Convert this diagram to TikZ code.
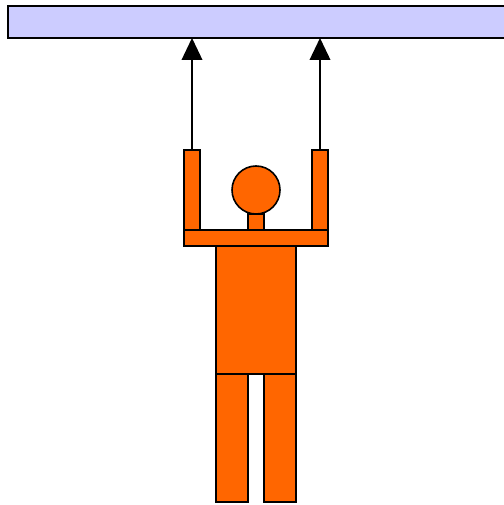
\documentclass[tikz,border=0pt]{standalone}
\usepackage{xcolor}
\usetikzlibrary{arrows.meta,positioning}
\definecolor{figorange}{HTML}{FF6600}
\definecolor{ceilblue}{HTML}{CCCCFF}

\begin{document}
\begin{tikzpicture}[
  x=0.75pt, y=-0.75pt,
  node distance=0pt,
  part/.style={rectangle, draw=black, line width=1.2pt, fill=figorange,
    inner sep=0pt, outer sep=0pt},
  arrow/.style={-{Triangle[length=16.5pt, width=15.5pt]}, line width=1.2pt, black},
]
  \useasboundingbox (0,0) rectangle (503,505);

  \node[part, fill=ceilblue, minimum width=402pt, minimum height=24pt,
    anchor=north west] (ceiling) at (8,6) {};

  \node[part, minimum width=108pt, minimum height=12pt] (shoulders) at (256,238) {};
  \node[part, minimum width=60pt, minimum height=96pt, below=of shoulders] (torso) {};
  \node[part, minimum width=24pt, minimum height=96pt, below=of torso.south west,
    anchor=north west] (legleft) {};
  \node[part, minimum width=24pt, minimum height=96pt, below=of torso.south east,
    anchor=north east] (legright) {};

  \node[part, minimum width=12pt, minimum height=60pt, above=of shoulders.north west,
    anchor=south west] (armleft) {};
  \node[part, minimum width=12pt, minimum height=60pt, above=of shoulders.north east,
    anchor=south east] (armright) {};

  \node[part, minimum width=12pt, minimum height=12pt, above=of shoulders] (neck) {};
  \node[part, circle, minimum size=36pt, above=of neck] (head) {};

  % redraw shoulder line over the arms and neck
  \draw[line width=1.2pt] (shoulders.north west) -- (shoulders.north east);

  \draw[arrow] (armleft.north) -- (armleft.north |- ceiling.south);
  \draw[arrow] (armright.north) -- (armright.north |- ceiling.south);
\end{tikzpicture}
\end{document}
